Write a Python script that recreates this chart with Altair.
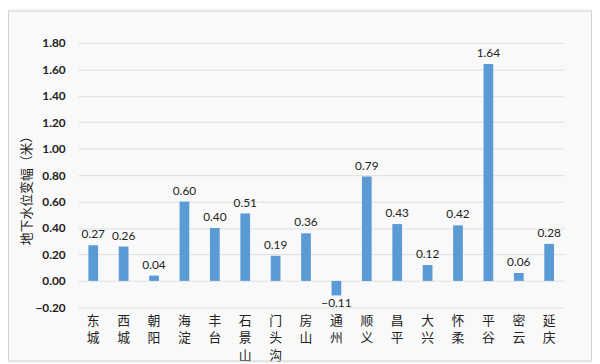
import altair as alt
import pandas as pd

districts = ["东城", "西城", "朝阳", "海淀", "丰台", "石景山", "门头沟", "房山",
             "通州", "顺义", "昌平", "大兴", "怀柔", "平谷", "密云", "延庆"]
values = [0.27, 0.26, 0.04, 0.60, 0.40, 0.51, 0.19, 0.36,
          -0.11, 0.79, 0.43, 0.12, 0.42, 1.64, 0.06, 0.28]
y_ticks = [-0.2, 0.0, 0.2, 0.4, 0.6, 0.8, 1.0, 1.2, 1.4, 1.6, 1.8]

df = pd.DataFrame({"district": districts, "value": values})

W, H = 493, 268
PAD = {"left": 71, "top": 33, "right": 28, "bottom": 55}

x_enc = alt.X(
    "district:N", sort=districts,
    scale=alt.Scale(paddingInner=0.68, paddingOuter=0.34),
    axis=alt.Axis(
        title=None, labelAngle=0, domain=False, ticks=False, labelOverlap=False,
        labelExpr="split(datum.label, '')",
        labelFont="Noto Sans CJK SC", labelFontSize=13, labelColor="#222222",
        labelLineHeight=18, labelPadding=7, labelBaseline="top",
    ),
)
y_enc = alt.Y(
    "value:Q",
    scale=alt.Scale(domain=[-0.2, 1.8], nice=False, zero=False),
    axis=alt.Axis(
        values=y_ticks, tickCount=len(y_ticks), format=".2f", domain=False, ticks=False,
        labelOverlap=False,
        labelFont="Lato", labelFontSize=12, labelFontWeight="bold", labelColor="#222222",
        labelPadding=13, gridColor="#dedede", gridWidth=1,
        title="地下水位变幅（米）", titleFont="Noto Sans CJK SC", titleFontSize=13,
        titleFontWeight="normal", titleColor="#222222", titleAngle=-90,
        titleX=-52, titleY=146, titleAlign="center", titleBaseline="middle",
    ),
)

base = alt.Chart(df)
bars = base.mark_bar(color="#5b9bd5").encode(x=x_enc, y=y_enc)

pos_labels = base.transform_filter("datum.value >= 0").mark_text(
    baseline="bottom", dy=-4, font="Lato", fontSize=12, color="#222222"
).encode(x=alt.X("district:N", sort=districts), y="value:Q", text=alt.Text("value:Q", format=".2f"))

neg_labels = base.transform_filter("datum.value < 0").mark_text(
    baseline="top", dy=3, font="Lato", fontSize=12, color="#222222"
).encode(x=alt.X("district:N", sort=districts), y="value:Q", text=alt.Text("value:Q", format=".2f"))

border = alt.Chart(alt.Data(values=[{"a": 1}])).mark_rect(
    fill=None, stroke="#cfcfcf", strokeWidth=1
).encode(
    x=alt.value(-70.5), x2=alt.value(W + PAD["right"] - 0.5),
    y=alt.value(-32.5), y2=alt.value(H + PAD["bottom"] - 0.5),
)

chart = alt.layer(bars, pos_labels, neg_labels, border).properties(
    width=W, height=H, padding=PAD,
    autosize=alt.AutoSizeParams(type="none"),
    background="#f9f9f9",
).configure_view(stroke=None)

chart.save("out.html", embed_options={"renderer": "svg", "actions": False})
